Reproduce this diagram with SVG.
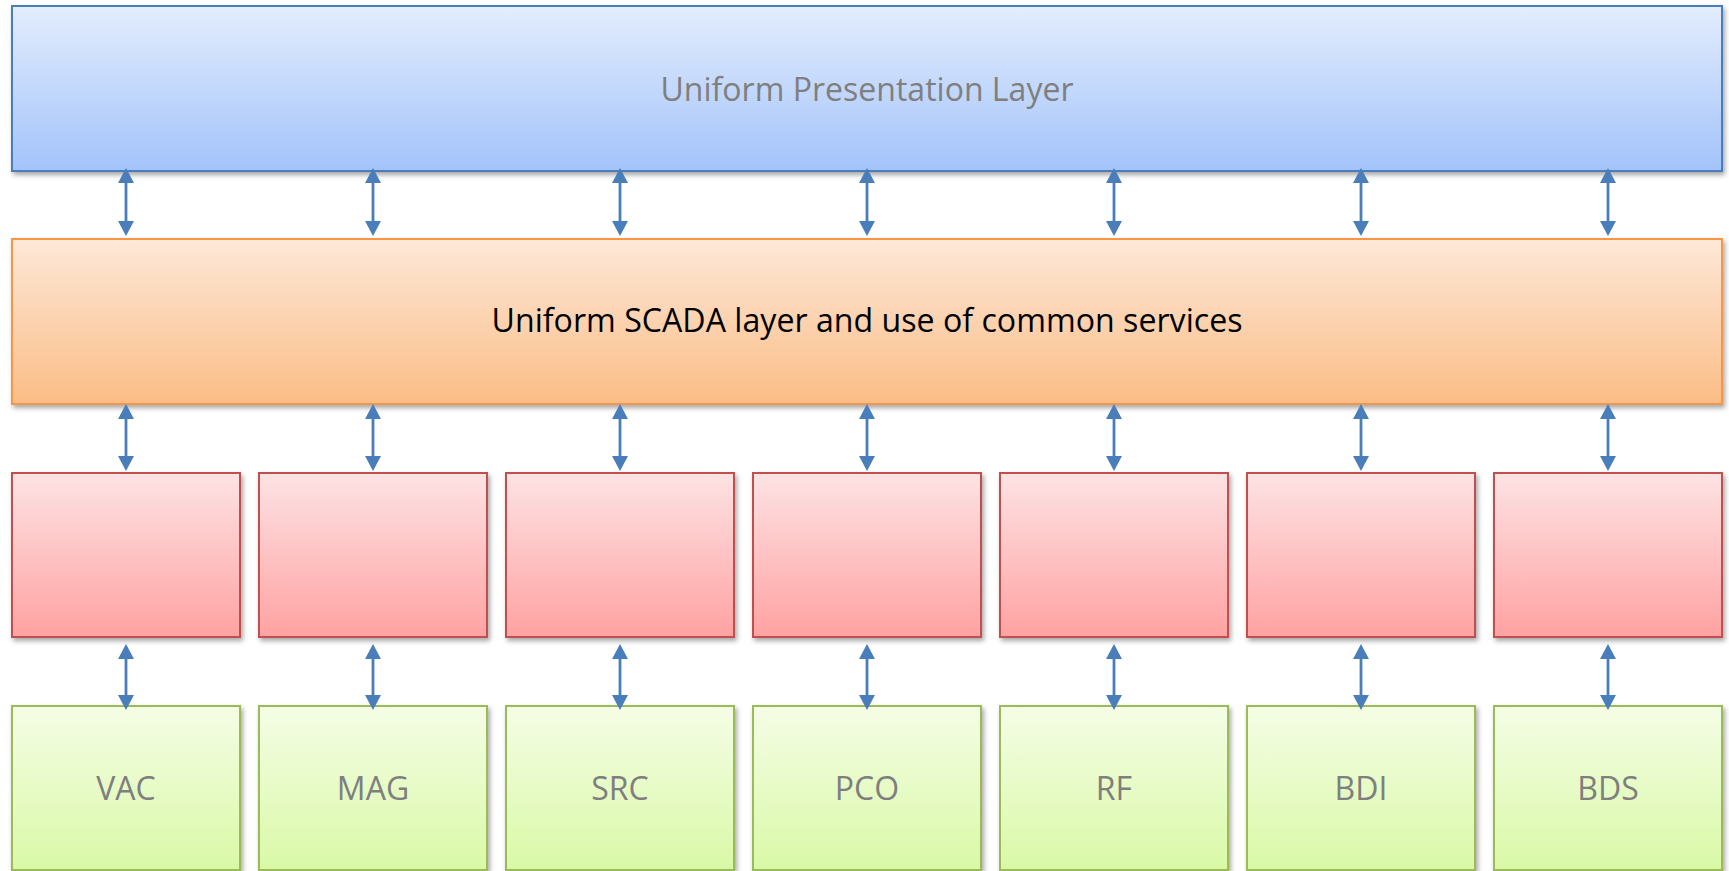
<svg xmlns="http://www.w3.org/2000/svg" width="1729" height="871" viewBox="0 0 1729 871">
<style>
.box{stroke-width:2}
.blue{fill:url(#gBlue);stroke:#4a7ebb}
.orange{fill:url(#gOrange);stroke:#f79646}
.red{fill:url(#gRed);stroke:#c0504d}
.green{fill:url(#gGreen);stroke:#9bbb59}
.lbl{font-family:"Open Sans","Liberation Sans",sans-serif;font-size:32px;fill:#7f7f7f;text-anchor:middle}
.dark{fill:#000000}
.conn{stroke:#4a7ebb;stroke-width:2.8;fill:none;marker-start:url(#ah);marker-end:url(#ah)}
</style>
<defs>
<linearGradient id="gBlue" x1="0" y1="0" x2="0" y2="1"><stop offset="0" stop-color="#e3edfd"/><stop offset="1" stop-color="#a3c3fa"/></linearGradient>
<linearGradient id="gOrange" x1="0" y1="0" x2="0" y2="1"><stop offset="0" stop-color="#fde8d8"/><stop offset="1" stop-color="#fbbd86"/></linearGradient>
<linearGradient id="gRed" x1="0" y1="0" x2="0" y2="1"><stop offset="0" stop-color="#fde3e4"/><stop offset="1" stop-color="#ffa2a2"/></linearGradient>
<linearGradient id="gGreen" x1="0" y1="0" x2="0" y2="1"><stop offset="0" stop-color="#f5fde6"/><stop offset="1" stop-color="#d9f9a6"/></linearGradient>
<filter id="sh" x="-5%" y="-5%" width="110%" height="115%"><feDropShadow dx="2" dy="3" stdDeviation="2.5" flood-color="#000" flood-opacity="0.35"/></filter>
<marker id="ah" viewBox="0 0 15 16" markerUnits="userSpaceOnUse" markerWidth="15" markerHeight="16" refX="1" refY="8" orient="auto-start-reverse"><path d="M0,0 L15,8 L0,16 z" fill="#4a7ebb"/></marker>
</defs>
<g id="presentation"><rect class="box blue" x="12" y="6" width="1710" height="165" filter="url(#sh)"/><text class="lbl" x="867" y="101" textLength="413" lengthAdjust="spacingAndGlyphs">Uniform Presentation Layer</text></g>
<g id="scada"><rect class="box orange" x="12" y="239" width="1710" height="165" filter="url(#sh)"/><text class="lbl dark" x="867" y="332" textLength="751" lengthAdjust="spacingAndGlyphs">Uniform SCADA layer and use of common services</text></g>
<g id="mid1"><rect class="box red" x="12" y="473" width="228" height="164" filter="url(#sh)"/></g>
<g id="mid2"><rect class="box red" x="259" y="473" width="228" height="164" filter="url(#sh)"/></g>
<g id="mid3"><rect class="box red" x="506" y="473" width="228" height="164" filter="url(#sh)"/></g>
<g id="mid4"><rect class="box red" x="753" y="473" width="228" height="164" filter="url(#sh)"/></g>
<g id="mid5"><rect class="box red" x="1000" y="473" width="228" height="164" filter="url(#sh)"/></g>
<g id="mid6"><rect class="box red" x="1247" y="473" width="228" height="164" filter="url(#sh)"/></g>
<g id="mid7"><rect class="box red" x="1494" y="473" width="228" height="164" filter="url(#sh)"/></g>
<g id="vac"><rect class="box green" x="12" y="706" width="228" height="164" filter="url(#sh)"/><text class="lbl" x="126" y="800">VAC</text></g>
<g id="mag"><rect class="box green" x="259" y="706" width="228" height="164" filter="url(#sh)"/><text class="lbl" x="373" y="800">MAG</text></g>
<g id="src"><rect class="box green" x="506" y="706" width="228" height="164" filter="url(#sh)"/><text class="lbl" x="620" y="800">SRC</text></g>
<g id="pco"><rect class="box green" x="753" y="706" width="228" height="164" filter="url(#sh)"/><text class="lbl" x="867" y="800">PCO</text></g>
<g id="rf"><rect class="box green" x="1000" y="706" width="228" height="164" filter="url(#sh)"/><text class="lbl" x="1114" y="800">RF</text></g>
<g id="bdi"><rect class="box green" x="1247" y="706" width="228" height="164" filter="url(#sh)"/><text class="lbl" x="1361" y="800">BDI</text></g>
<g id="bds"><rect class="box green" x="1494" y="706" width="228" height="164" filter="url(#sh)"/><text class="lbl" x="1608" y="800">BDS</text></g>
<g id="connectors">
<line class="conn" x1="126" y1="182" x2="126" y2="222"/>
<line class="conn" x1="373" y1="182" x2="373" y2="222"/>
<line class="conn" x1="620" y1="182" x2="620" y2="222"/>
<line class="conn" x1="867" y1="182" x2="867" y2="222"/>
<line class="conn" x1="1114" y1="182" x2="1114" y2="222"/>
<line class="conn" x1="1361" y1="182" x2="1361" y2="222"/>
<line class="conn" x1="1608" y1="182" x2="1608" y2="222"/>
<line class="conn" x1="126" y1="418" x2="126" y2="457"/>
<line class="conn" x1="373" y1="418" x2="373" y2="457"/>
<line class="conn" x1="620" y1="418" x2="620" y2="457"/>
<line class="conn" x1="867" y1="418" x2="867" y2="457"/>
<line class="conn" x1="1114" y1="418" x2="1114" y2="457"/>
<line class="conn" x1="1361" y1="418" x2="1361" y2="457"/>
<line class="conn" x1="1608" y1="418" x2="1608" y2="457"/>
<line class="conn" x1="126" y1="658" x2="126" y2="696"/>
<line class="conn" x1="373" y1="658" x2="373" y2="696"/>
<line class="conn" x1="620" y1="658" x2="620" y2="696"/>
<line class="conn" x1="867" y1="658" x2="867" y2="696"/>
<line class="conn" x1="1114" y1="658" x2="1114" y2="696"/>
<line class="conn" x1="1361" y1="658" x2="1361" y2="696"/>
<line class="conn" x1="1608" y1="658" x2="1608" y2="696"/>
</g>
</svg>
